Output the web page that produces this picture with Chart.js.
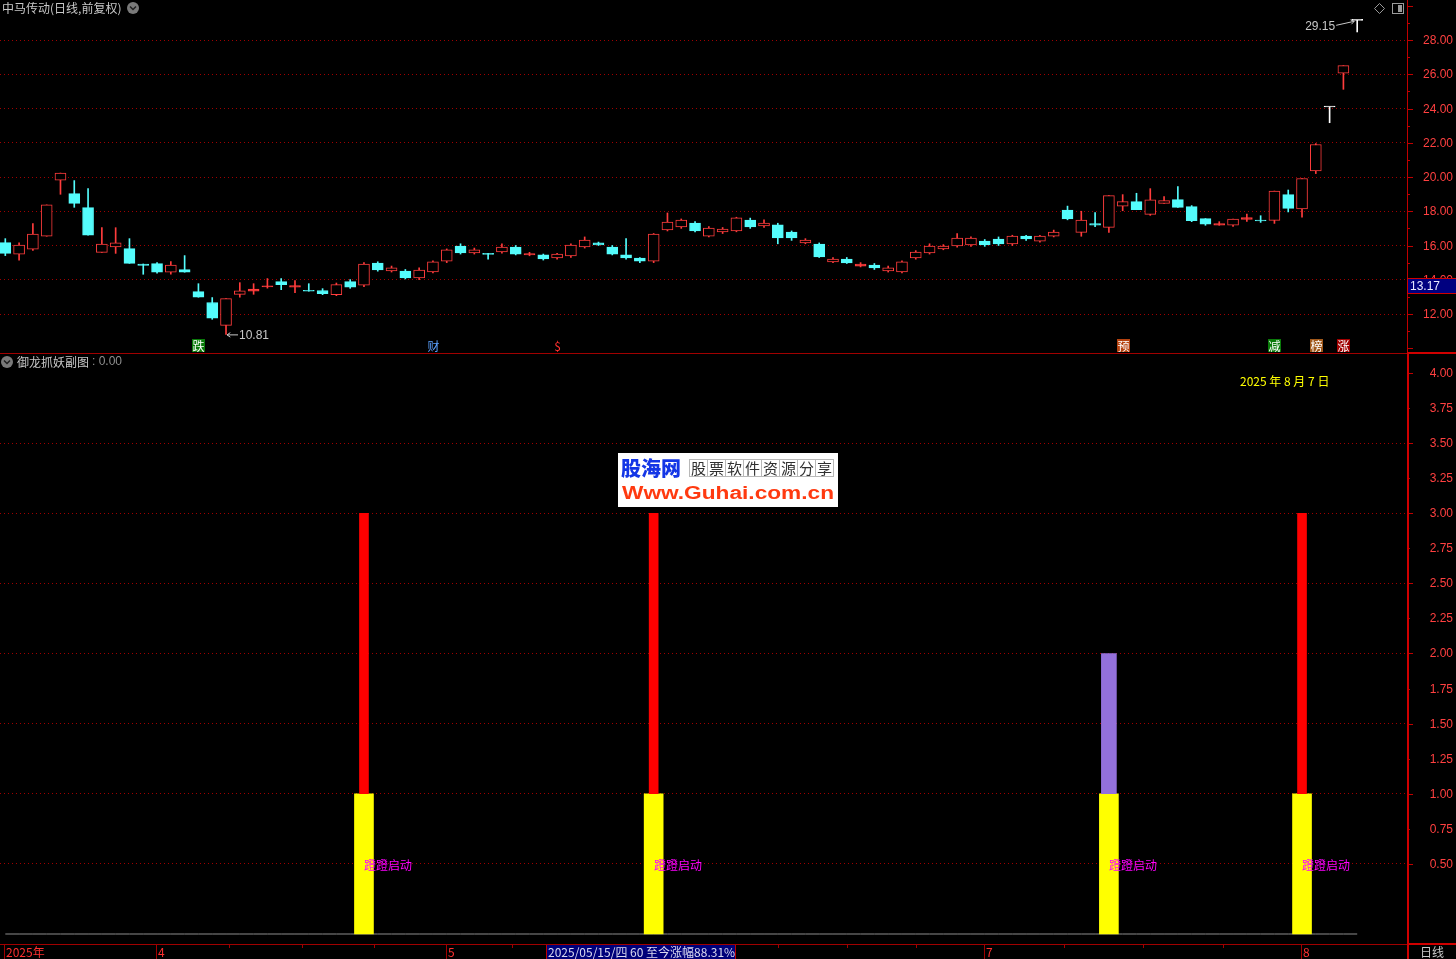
<!DOCTYPE html>
<html><head><meta charset="utf-8">
<script src="https://cdn.jsdelivr.net/npm/chart.js@4.4.1/dist/chart.umd.min.js"></script>
<style>
html,body{margin:0;padding:0;background:#000;overflow:hidden;}
#wrap{position:relative;width:1456px;height:959px;background:#000;}
#c1{position:absolute;left:0;top:0;}
#c2{position:absolute;left:0;top:352px;}
</style></head>
<body><div id="wrap"><canvas id="c1" width="1456" height="352"></canvas><canvas id="c2" width="1456" height="607"></canvas></div>
<script>
// ---------------- DATA ----------------
const dates = [
 '03-17','03-18','03-19','03-20','03-21','03-24','03-25','03-26','03-27','03-28','03-31',
 '04-01','04-02','04-03','04-07','04-08','04-09','04-10','04-11','04-14','04-15','04-16','04-17','04-18','04-21','04-22','04-23','04-24','04-25','04-28','04-29','04-30',
 '05-06','05-07','05-08','05-09','05-12','05-13','05-14','05-15','05-16','05-19','05-20','05-21','05-22','05-23','05-26','05-27','05-28','05-29','05-30',
 '06-03','06-04','06-05','06-06','06-09','06-10','06-11','06-12','06-13','06-16','06-17','06-18','06-19','06-20','06-23','06-24','06-25','06-26','06-27','06-30',
 '07-01','07-02','07-03','07-04','07-07','07-08','07-09','07-10','07-11','07-14','07-15','07-16','07-17','07-18','07-21','07-22','07-23','07-24','07-25','07-28','07-29','07-30','07-31',
 '08-01','08-04','08-05','08-06','08-07'];
const open = [16.17,15.49,15.78,16.54,19.81,19.03,18.21,15.60,15.91,15.82,14.92,14.94,14.44,14.59,13.31,12.67,11.34,13.15,13.33,13.58,13.89,13.56,13.37,13.37,13.13,13.89,
 13.69,14.98,14.51,14.51,14.10,14.45,15.09,15.97,15.56,15.52,15.62,15.91,15.45,15.45,15.27,15.39,15.91,16.15,15.91,15.45,15.27,15.09,16.91,17.08,17.31,16.55,16.79,16.85,17.49,17.14,17.20,16.79,16.15,16.09,15.04,15.21,14.80,14.86,14.51,14.45,15.27,15.56,15.80,15.97,16.03,16.26,16.38,16.09,16.55,16.26,16.55,18.07,
 16.77,17.28,17.06,18.29,18.56,17.82,18.46,18.68,18.27,17.57,17.18,17.18,17.53,17.49,17.47,18.97,18.13,20.35,24.09,26.07,29.15];
const high = [16.40,16.15,17.28,18.37,20.23,19.79,19.32,17.04,17.04,16.40,14.92,15.00,15.06,15.41,13.77,12.96,12.90,13.83,13.77,14.07,14.07,13.95,13.77,13.48,13.81,14.01,
 15.00,15.05,14.80,14.60,14.70,15.10,15.80,16.10,15.85,15.55,16.10,16.00,15.60,15.50,15.55,16.10,16.50,16.20,16.00,16.40,15.30,16.70,17.90,17.55,17.40,17.10,17.05,17.65,17.60,17.50,17.30,16.85,16.40,16.15,15.30,15.30,15.00,14.95,14.80,15.10,15.70,16.10,16.05,16.70,16.50,16.35,16.50,16.60,16.60,16.60,16.90,18.30,
 18.00,17.92,18.91,18.97,19.05,19.32,18.85,19.44,18.33,17.57,17.39,17.55,17.84,17.74,19.18,19.24,19.91,21.95,24.09,26.50,29.15];
const low = [15.41,15.14,15.72,16.54,18.99,18.23,16.60,15.60,15.54,14.96,14.32,14.38,14.32,14.44,12.98,11.69,10.81,12.98,13.15,13.51,13.42,13.25,13.33,13.13,13.07,13.50,
 13.60,14.50,14.45,14.05,14.00,14.40,15.00,15.50,15.50,15.20,15.55,15.45,15.40,15.15,15.20,15.30,15.85,16.00,15.45,15.20,15.00,15.00,16.85,17.00,16.80,16.50,16.70,16.80,17.00,17.05,16.10,16.30,16.10,15.30,15.00,14.95,14.75,14.60,14.45,14.40,15.20,15.50,15.75,15.90,15.95,15.95,16.00,16.00,16.30,16.20,16.50,17.50,
 16.54,17.10,16.77,18.03,18.09,17.76,18.46,18.23,17.39,17.18,17.18,17.12,17.41,17.35,17.29,17.96,17.65,20.20,23.17,25.12,28.47];
const close = [15.54,16.03,16.67,18.37,20.23,18.46,16.60,16.09,16.15,14.96,14.84,14.44,14.86,14.44,12.98,11.75,12.90,13.35,13.46,13.62,13.72,13.66,13.33,13.19,13.72,13.56,
 14.92,14.57,14.69,14.10,14.57,15.04,15.74,15.56,15.74,15.48,15.91,15.50,15.53,15.21,15.50,16.03,16.32,16.03,15.50,15.27,15.09,16.67,17.37,17.49,16.85,17.02,16.96,17.61,17.08,17.31,16.44,16.44,16.32,15.33,15.21,14.98,14.92,14.69,14.69,15.04,15.62,15.97,15.97,16.44,16.44,16.03,16.09,16.55,16.38,16.55,16.79,17.55,
 17.49,17.18,18.91,18.56,18.09,18.66,18.62,18.23,17.45,17.24,17.28,17.55,17.63,17.43,19.18,18.17,19.91,21.90,24.09,26.50,29.15];
const priceTicks = [12,14,16,18,20,22,24,26,28];
const indTicks = [0.5,0.75,1,1.25,1.5,1.75,2,2.25,2.5,2.75,3,3.25,3.5,3.75,4];
const monthLabels = ['2025年','4','5','6','7','8'];
const signalIdx = [26,47,80,94];
const signalBase = [1,1,1,1];
const signalTop = [3,3,2,3];
const signalText = '蹬蹬启动';
const markerIdx = [14,31,40,81,92,95,97];
const markerText = ['跌','财','$','预','减','榜','涨'];
const lowIdx = 16, lowVal = 10.81, highIdx = 98, highVal = 29.15;

// ---------------- STYLE ----------------
const XMIN = -0.384, XMAX = 101.61;
const UP = '#ff3c3c', DN = '#54fcfc', FLAT = '#ffffff';
const GRID = '#a00000', AXIS = '#c00000', LBL = '#ff4040';
const NUMFONT = '12px "Liberation Sans", "Noto Sans CJK SC", sans-serif';
const CJKFONT = '12px "Noto Sans CJK SC", "Liberation Sans", sans-serif';
const markerStyle = {'跌':{bg:'#0a7a0a',fg:'#fff'},'财':{bg:null,fg:'#5aa0ff'},'$':{bg:null,fg:'#ff3030'},'预':{bg:'#b4410e',fg:'#fff'},'减':{bg:'#0a7a0a',fg:'#fff'},'榜':{bg:'#a0581a',fg:'#fff'},'涨':{bg:'#a00000',fg:'#fff'}};

const candleColor = i => (i==null||open[i]===undefined) ? DN : (open[i]===close[i] ? FLAT : (close[i]>open[i] ? UP : DN));
const bodyFill = i => { if(i==null) return DN; const c=candleColor(i); return (c===UP && (close[i]-open[i])>0.14) ? '#000' : c; };

function arrow(ctx,x1,y1,x2,y2){ctx.beginPath();ctx.moveTo(x1,y1);ctx.lineTo(x2,y2);ctx.stroke();
 const a=Math.atan2(y2-y1,x2-x1);ctx.beginPath();ctx.moveTo(x2,y2);ctx.lineTo(x2-4*Math.cos(a-0.6),y2-4*Math.sin(a-0.6));ctx.moveTo(x2,y2);ctx.lineTo(x2-4*Math.cos(a+0.6),y2-4*Math.sin(a+0.6));ctx.stroke();}
function fitText(ctx,txt,x,y,w){ const m=ctx.measureText(txt).width; ctx.save(); ctx.translate(x,y); ctx.scale(w/m,1); ctx.fillText(txt,0,0); ctx.restore(); }

const xAxis = {type:'linear', min:XMIN, max:XMAX, offset:false, bounds:'data', grace:0, display:false,
  afterDataLimits:s=>{s.min=XMIN;s.max=XMAX;}, afterBuildTicks:s=>{s.min=XMIN;s.max=XMAX;}};

const topPlugin = {id:'topDeco', afterDraw(chart){
 const ctx=chart.ctx, ys=chart.scales.y, xs=chart.scales.x;
 ctx.save();
 ctx.fillStyle=AXIS; ctx.fillRect(1407,0,1,352);
 for(let v=10; v<=30; v++){ const py=Math.round(ys.getPixelForValue(v)); if(py<0||py>350) continue; ctx.fillRect(1408,py,(v%2===0)?5:2,1); }
 ctx.font=NUMFONT; ctx.textAlign='right'; ctx.textBaseline='middle'; ctx.fillStyle=LBL;
 ys.ticks.forEach(t=>{ ctx.fillText(t.value.toFixed(2),1453,Math.round(ys.getPixelForValue(t.value))+1); });
 const by=Math.round(ys.getPixelForValue(13.63));
 ctx.fillStyle='#000080'; ctx.fillRect(1408,by-7,48,14);
 ctx.strokeStyle='#d00000'; ctx.lineWidth=1; ctx.strokeRect(1407.5,by-7.5,49,15);
 ctx.fillStyle='#e8e8ff'; ctx.textAlign='left'; ctx.fillText('13.17',1410,by+1);
 ctx.font=CJKFONT; ctx.fillStyle='#c8c8c8'; ctx.textAlign='left'; ctx.fillText('中马传动(日线,前复权)',2,8);
 ctx.fillStyle='#7a7a7a'; ctx.beginPath(); ctx.arc(133,8,6,0,Math.PI*2); ctx.fill();
 ctx.strokeStyle='#202020'; ctx.lineWidth=1.5; ctx.beginPath(); ctx.moveTo(130,6.5); ctx.lineTo(133,9.5); ctx.lineTo(136,6.5); ctx.stroke();
 ctx.strokeStyle='#9a9a9a'; ctx.lineWidth=1; ctx.beginPath(); ctx.moveTo(1379.5,3.5); ctx.lineTo(1384.5,8.5); ctx.lineTo(1379.5,13.5); ctx.lineTo(1374.5,8.5); ctx.closePath(); ctx.stroke();
 ctx.strokeRect(1392.5,3.5,11,10); ctx.fillStyle='#9a9a9a'; ctx.fillRect(1398,5,4,7);
 ctx.font=NUMFONT; ctx.fillStyle='#c8c8c8'; ctx.strokeStyle='#c8c8c8'; ctx.lineWidth=1;
 const hx=xs.getPixelForValue(highIdx), hy=ys.getPixelForValue(highVal);
 ctx.textAlign='right'; ctx.fillText(highVal.toFixed(2),hx-22,hy+6);
 arrow(ctx,hx-21,hy+5,hx-3,hy+1);
 const lx=xs.getPixelForValue(lowIdx), ly=ys.getPixelForValue(lowVal);
 ctx.textAlign='left'; ctx.fillText(lowVal.toFixed(2),lx+13,ly+1);
 arrow(ctx,lx+12,ly+0.5,lx+1,ly+0.5);
 ctx.font=CJKFONT; ctx.textAlign='center'; ctx.textBaseline='middle';
 markerIdx.forEach((mi,k)=>{ const mx=Math.round(xs.getPixelForValue(mi)); const st=markerStyle[markerText[k]];
   if(st.bg){ ctx.fillStyle=st.bg; ctx.fillRect(mx-6,339,13,13); }
   ctx.fillStyle=st.fg; ctx.fillText(markerText[k],mx+0.5,346); });
 ctx.restore();
}};

new Chart(document.getElementById('c1'), {
 type:'bar',
 data:{datasets:[
  {label:'body', data: dates.map((d,i)=>({x:i,y:[open[i],close[i]]})),
   backgroundColor: c=>bodyFill(c.dataIndex), borderColor: c=>candleColor(c.dataIndex),
   borderWidth:1, borderSkipped:false, barThickness:11, minBarLength:1, grouped:false, order:1},
  {label:'wick', data: dates.map((d,i)=>({x:i,y:[low[i],high[i]]})),
   backgroundColor: c=>candleColor(c.dataIndex), borderWidth:0, barThickness:1, minBarLength:1, grouped:false, order:2}
 ]},
 options:{responsive:false, animation:false, devicePixelRatio:1, layout:{padding:0},
  plugins:{legend:{display:false}, tooltip:{enabled:false}},
  scales:{
   x: xAxis,
   y:{position:'right', min:9.781, max:30.336, afterFit:s=>{s.width=49;},
      afterBuildTicks:s=>{s.ticks=priceTicks.map(v=>({value:v}));},
      ticks:{display:false}, grid:{color:GRID, drawTicks:false, lineWidth:1}, border:{display:false, dash:[1,3]}}
  }},
 plugins:[topPlugin]
});

const botPlugin = {id:'botDeco', afterDraw(chart){
 const ctx=chart.ctx, ys=chart.scales.y, xs=chart.scales.x;
 ctx.save();
 ctx.fillStyle='#a00000'; ctx.fillRect(0,1,1407,1); ctx.fillRect(0,592,1407,1);
 ctx.fillStyle='#d00000'; ctx.fillRect(1407,0,49,2); ctx.fillRect(1407,0,2,607); ctx.fillRect(1407,591,49,2);
 ctx.fillStyle=AXIS;
 ys.ticks.forEach(t=>{ const py=Math.round(ys.getPixelForValue(t.value)); const major=Math.abs(t.value*2-Math.round(t.value*2))<1e-6; ctx.fillRect(1409,py,major?4:1,1); });
 ctx.font=NUMFONT; ctx.textAlign='right'; ctx.textBaseline='middle'; ctx.fillStyle=LBL;
 ys.ticks.forEach(t=>{ ctx.fillText(t.value.toFixed(2),1453,Math.round(ys.getPixelForValue(t.value))+1); });
 ctx.fillStyle='#7a7a7a'; ctx.beginPath(); ctx.arc(7,10,6,0,Math.PI*2); ctx.fill();
 ctx.strokeStyle='#202020'; ctx.lineWidth=1.5; ctx.beginPath(); ctx.moveTo(4,8.5); ctx.lineTo(7,11.5); ctx.lineTo(10,8.5); ctx.stroke();
 ctx.font=CJKFONT; ctx.textAlign='left'; ctx.fillStyle='#c8c8c8'; ctx.fillText('御龙抓妖副图',17,10);
 ctx.font=NUMFONT; ctx.fillStyle='#909090'; ctx.fillText(': 0.00',92,10);
 ctx.font=CJKFONT; ctx.fillStyle='#ffff00'; ctx.fillText('2025 年 8 月 7 日',1240,29);
 ctx.fillStyle='#ff00ff';
 signalIdx.forEach(si=>{ ctx.fillText(signalText, Math.round(xs.getPixelForValue(si)), Math.round(ys.getPixelForValue(0.5))+1); });
 // watermark
 ctx.fillStyle='#ffffff'; ctx.fillRect(618,101,220,54);
 ctx.textBaseline='alphabetic';
 ctx.font='900 20px "Noto Sans CJK SC", sans-serif'; ctx.fillStyle='#1436e6'; fitText(ctx,'股海网',621,124,60);
 const wm='股票软件资源分享';
 for(let k=0;k<wm.length;k++){ const bx=689+k*18; ctx.strokeStyle='#b8b8b8'; ctx.lineWidth=1; ctx.strokeRect(bx+0.5,107.5,18,17); ctx.fillStyle='#303030'; ctx.font='15px "Noto Sans CJK SC", sans-serif'; ctx.textAlign='center'; ctx.fillText(wm[k],bx+9.5,122); }
 ctx.textAlign='left'; ctx.font='bold 18px "Liberation Sans", sans-serif'; ctx.fillStyle='#ff3a10'; fitText(ctx,'Www.Guhai.com.cn',622,147,212);
 // date axis
 const starts=[]; dates.forEach((d,i)=>{ if(i===0||d.slice(0,2)!==dates[i-1].slice(0,2)) starts.push(i); });
 ctx.fillStyle='#a00000';
 for(let k=1;k<starts.length-1;k++){ const p0=xs.getPixelForValue(starts[k]), p1=xs.getPixelForValue(starts[k+1]); for(let q=1;q<4;q++){ ctx.fillRect(Math.round(p0+(p1-p0)*q/4),593,1,3); } }
 ctx.font=CJKFONT; ctx.textBaseline='alphabetic';
 starts.forEach((si,k)=>{ const px=Math.round(xs.getPixelForValue(si)); ctx.fillStyle='#a00000'; ctx.fillRect(px-1,592,1,15); ctx.fillStyle='#ff3030'; ctx.fillText(monthLabels[k],px+1,605); });
 ctx.fillStyle='#00007a'; ctx.fillRect(546,593,190,14); ctx.fillStyle='#c00000'; ctx.fillRect(546,593,1,14); ctx.fillRect(735,593,1,14);
 ctx.fillStyle='#d8d8f0'; ctx.font=CJKFONT; ctx.fillText('2025/05/15/四 60 至今涨幅88.31%',548,605);
 ctx.fillStyle='#c8c8c8'; ctx.fillText('日线',1420,605);
 ctx.restore();
}};

new Chart(document.getElementById('c2'), {
 type:'bar',
 data:{datasets:[
  {type:'line', label:'zero', data: dates.map((d,i)=>({x:i,y:0})), borderColor:'#8c8c8c', borderWidth:1, pointRadius:0, order:4},
  {label:'base', data: signalIdx.map((s,k)=>({x:s,y:[0,signalBase[k]]})), backgroundColor:'#ffff00', barThickness:19, grouped:false, order:3},
  {label:'strong', data: signalIdx.map((s,k)=>({x:s,y:[signalBase[k],signalTop[k]]})).filter((p,k)=>signalTop[k]>=3), backgroundColor:'#ff0000', barThickness:9, grouped:false, order:2},
  {label:'weak', data: signalIdx.map((s,k)=>({x:s,y:[signalBase[k],signalTop[k]]})).filter((p,k)=>signalTop[k]<3), backgroundColor:'#9370db', barThickness:15, grouped:false, order:1}
 ]},
 options:{responsive:false, animation:false, devicePixelRatio:1, layout:{padding:{top:1,bottom:15,left:0,right:0}},
  plugins:{legend:{display:false}, tooltip:{enabled:false}},
  scales:{
   x: xAxis,
   y:{position:'right', min:-0.0713, max:4.1426, afterFit:s=>{s.width=49;},
      afterBuildTicks:s=>{s.ticks=indTicks.map(v=>({value:v}));},
      ticks:{display:false},
      grid:{drawTicks:false, lineWidth:1, color:c=>{ const v=c.tick&&c.tick.value; return (v!=null && Math.abs(v*2-Math.round(v*2))<1e-6 && v<4) ? GRID : 'rgba(0,0,0,0)'; }},
      border:{display:false, dash:[1,3]}}
  }},
 plugins:[botPlugin]
});
</script></body></html>
